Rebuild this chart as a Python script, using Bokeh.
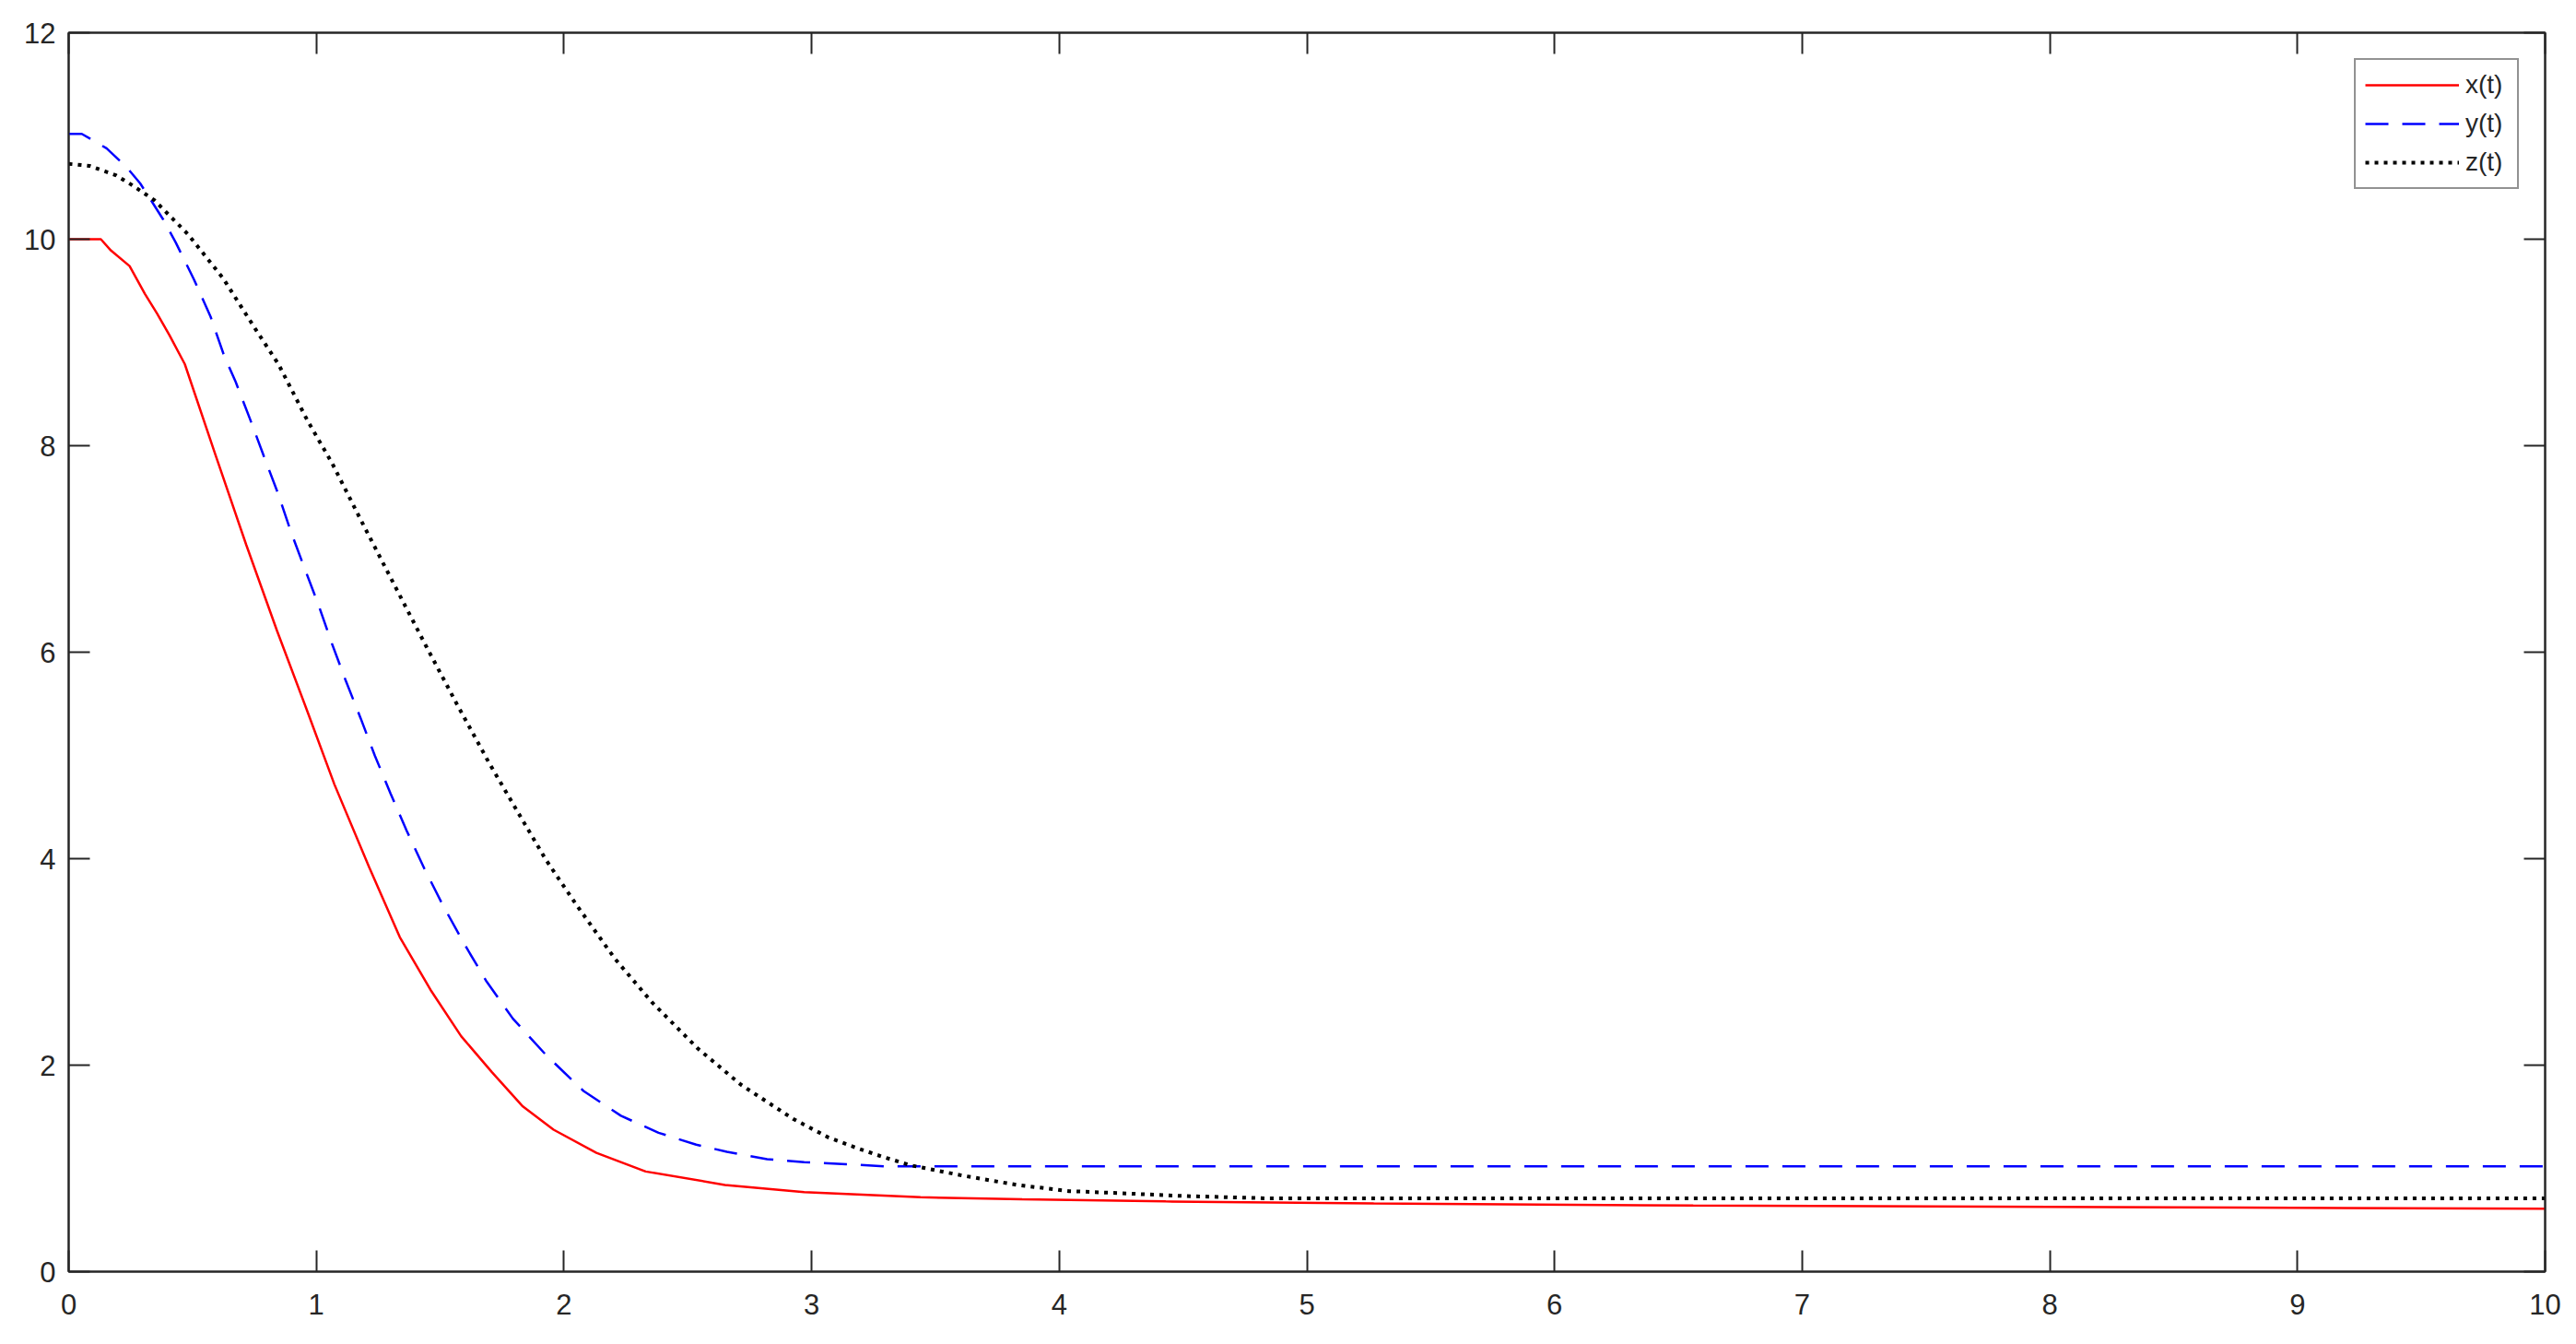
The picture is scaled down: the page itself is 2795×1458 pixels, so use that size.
import numpy as np
from bokeh.plotting import figure
from bokeh.models import Range1d, LinearAxis, FixedTicker, Legend, LegendItem, CustomJSTickFormatter
from bokeh.embed import file_html
from bokeh.resources import INLINE

# ---- data ----
t_x = [0, 0.13, 0.171, 0.246, 0.308, 0.357, 0.407, 0.469, 0.593, 0.717, 0.841, 0.965,
       1.073, 1.213, 1.337, 1.461, 1.585, 1.71, 1.834, 1.958, 2.131, 2.33, 2.65, 2.97,
       3.44, 3.85, 4.43, 5.27, 6.56, 8.78, 10]
x_vals = [10, 10, 9.89, 9.74, 9.47, 9.28, 9.07, 8.79, 7.91, 7.04, 6.21, 5.42,
          4.72, 3.92, 3.24, 2.73, 2.28, 1.93, 1.60, 1.375, 1.15, 0.97, 0.84, 0.77,
          0.72, 0.70, 0.68, 0.66, 0.64, 0.62, 0.61]

t_y = [0, 0.053, 0.09, 0.153, 0.233, 0.289, 0.345, 0.382, 0.432, 0.506, 0.573, 0.628,
       0.674, 0.732, 0.788, 0.845, 0.897, 0.953, 1.01, 1.062, 1.118, 1.179, 1.236, 1.3,
       1.365, 1.437, 1.511, 1.596, 1.685, 1.794, 1.927, 2.079, 2.23, 2.382, 2.534, 2.658,
       2.82, 2.97, 3.14, 3.3, 10]
y_vals = [11.02, 11.02, 10.97, 10.88, 10.70, 10.54, 10.33, 10.19, 9.97, 9.61, 9.25, 8.87,
          8.62, 8.26, 7.90, 7.54, 7.17, 6.81, 6.45, 6.09, 5.73, 5.36, 5.00, 4.63,
          4.27, 3.90, 3.55, 3.18, 2.82, 2.45, 2.10, 1.75, 1.51, 1.345, 1.23, 1.16,
          1.09, 1.06, 1.04, 1.02, 1.02]

t_z = [0, 0.085, 0.19, 0.252, 0.345, 0.481, 0.624, 0.754, 0.847, 0.965, 1.064, 1.182,
       1.337, 1.443, 1.567, 1.697, 1.809, 1.927, 2.051, 2.206, 2.355, 2.541, 2.715, 2.925,
       3.068, 3.18, 3.29, 3.40, 3.61, 3.83, 4.04, 4.25, 4.47, 4.84, 10]
z_vals = [10.73, 10.71, 10.62, 10.53, 10.38, 10.05, 9.62, 9.13, 8.79, 8.24, 7.83, 7.27,
          6.55, 6.06, 5.50, 4.93, 4.47, 3.99, 3.55, 3.03, 2.61, 2.16, 1.81, 1.48,
          1.30, 1.20, 1.11, 1.03, 0.93, 0.84, 0.78, 0.76, 0.735, 0.71, 0.71]

x_ticks = [0, 1, 2, 3, 4, 5, 6, 7, 8, 9, 10]
y_ticks = [0, 2, 4, 6, 8, 10, 12]
series_labels = ["x(t)", "y(t)", "z(t)"]

FONT = "Liberation Sans"
AX = "#262626"

p = figure(width=2780, height=1445,
           x_range=Range1d(0, 10), y_range=Range1d(0, 12),
           output_backend="svg", toolbar_location=None,
           min_border_left=74, min_border_top=35, min_border_right=19, min_border_bottom=66,
           background_fill_color="white", border_fill_color="white")
p.grid.visible = False
p.outline_line_color = AX
p.outline_line_width = 2


def style_axis(ax, ticks, labels=True, standoff=16):
    ax.ticker = FixedTicker(ticks=ticks)
    ax.major_tick_in = 23
    ax.major_tick_out = 0
    ax.minor_tick_in = 0
    ax.minor_tick_out = 0
    ax.major_tick_line_color = AX
    ax.major_tick_line_width = 2
    ax.axis_line_color = AX
    ax.axis_line_width = 2
    ax.major_label_text_font = FONT
    ax.major_label_text_font_size = "31px"
    ax.major_label_text_color = AX
    ax.major_label_standoff = standoff
    if not labels:
        ax.formatter = CustomJSTickFormatter(code="return ''")
        ax.major_label_text_font_size = "1px"
        ax.major_label_standoff = 0


style_axis(p.xaxis[0], x_ticks, standoff=24)
style_axis(p.yaxis[0], y_ticks, standoff=14)

top_ax = LinearAxis()
style_axis(top_ax, x_ticks, labels=False)
p.add_layout(top_ax, "above")
right_ax = LinearAxis()
style_axis(right_ax, y_ticks, labels=False)
p.add_layout(right_ax, "right")

r_x = p.line(t_x, x_vals, line_color="#ff0000", line_width=2.5)
r_y = p.line(t_y, y_vals, line_color="#0000ff", line_width=2.5, line_dash="25 15")
r_z = p.line(t_z, z_vals, line_color="#000000", line_width=4, line_dash="4 6")

legend = Legend(items=[LegendItem(label=series_labels[0], renderers=[r_x]),
                       LegendItem(label=series_labels[1], renderers=[r_y]),
                       LegendItem(label=series_labels[2], renderers=[r_z])],
                location="top_right", margin=28, padding=10, spacing=8,
                glyph_width=102, glyph_height=34, label_height=34, label_width=46,
                label_standoff=7,
                label_text_font=FONT, label_text_font_size="28px", label_text_color=AX,
                border_line_color=AX, border_line_width=2,
                background_fill_color="white", background_fill_alpha=1)
p.add_layout(legend)

open("out.html", "w").write(file_html(p, INLINE))
